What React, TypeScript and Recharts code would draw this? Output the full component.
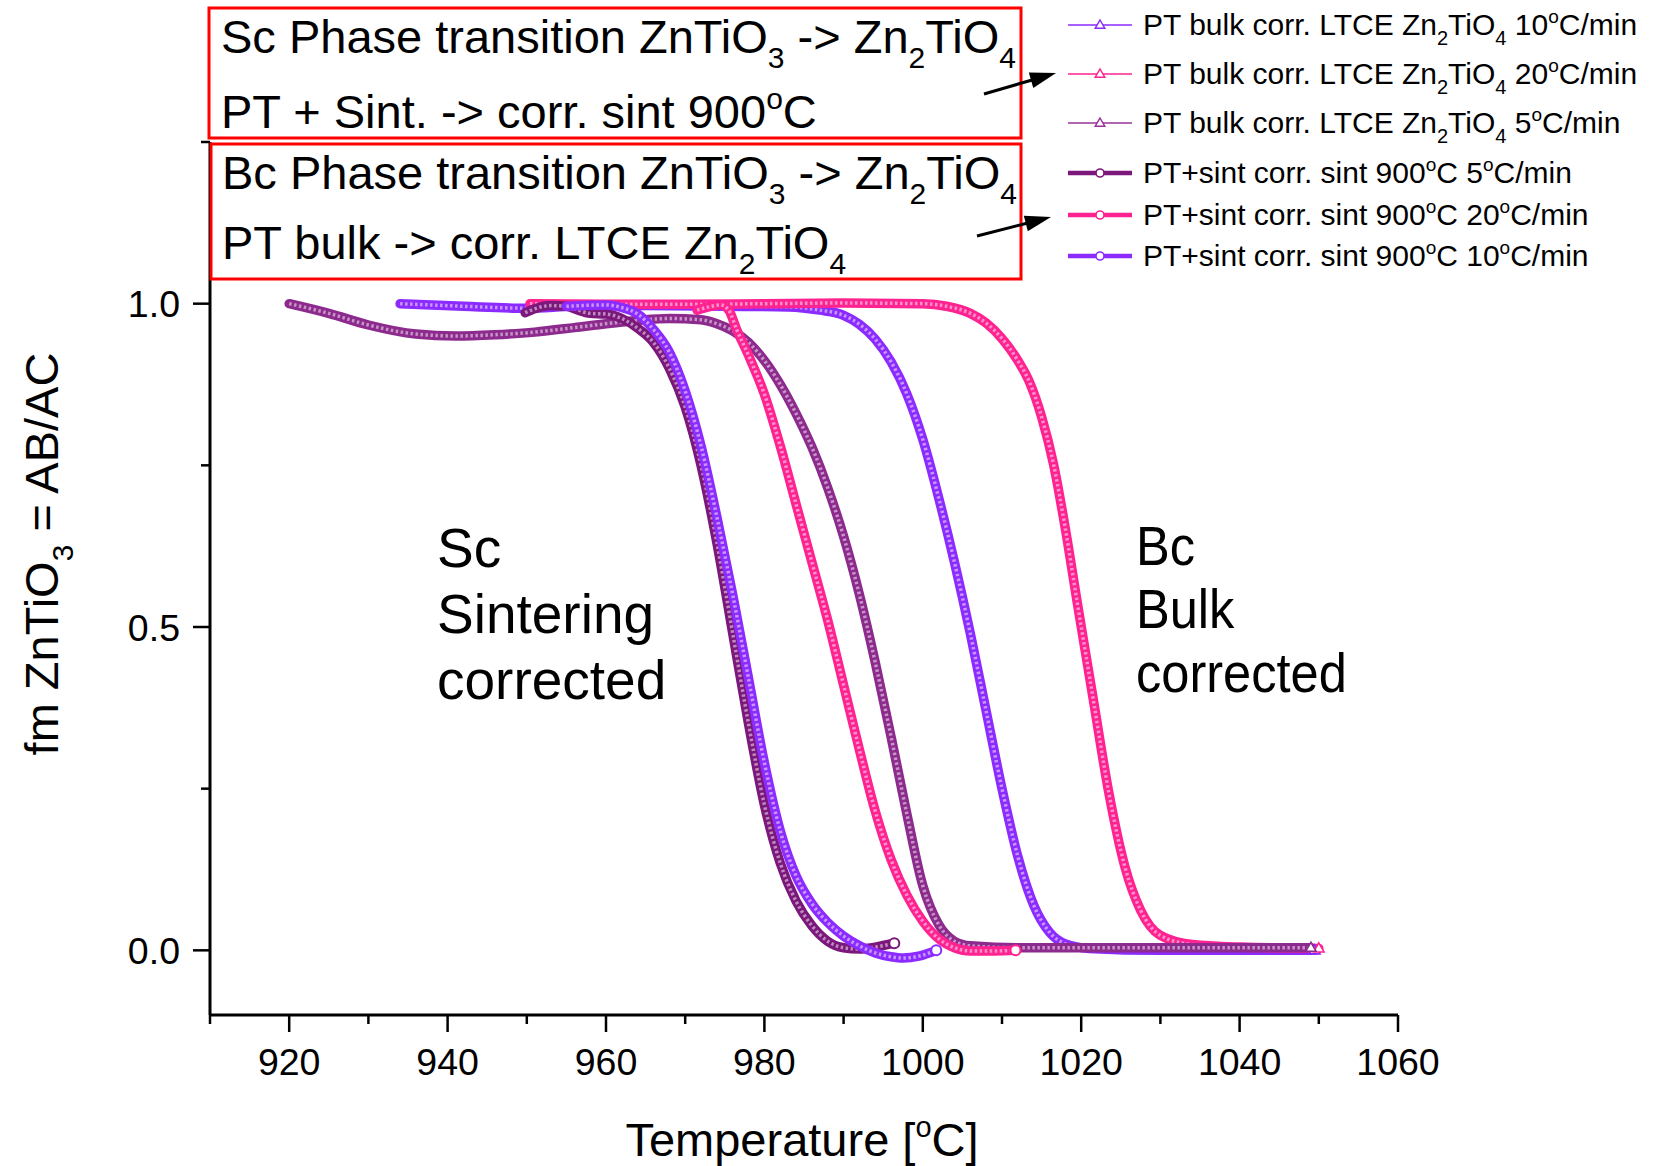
import React from 'react';
import { LineChart, Line, XAxis, YAxis } from 'recharts';

type Pt = [number, number];

// Temperature [°C], fm ZnTiO3 pairs for each run
const bulk10: Pt[] = [
  [934, 1.0], [942, 0.996], [950, 0.993], [956, 0.996], [965, 0.997], [975, 0.996], [983, 0.995],
  [987, 0.99], [990, 0.982], [992, 0.968], [994, 0.945], [996, 0.91], [998, 0.86], [1000, 0.79],
  [1002, 0.7], [1004, 0.6], [1006, 0.49], [1008, 0.37], [1010, 0.25], [1012, 0.145], [1014, 0.07],
  [1016, 0.028], [1018, 0.01], [1021, 0.003], [1030, 0.0], [1040, 0.0], [1049.5, 0.0],
];
const bulk20: Pt[] = [
  [950.4, 1.0], [960, 0.999], [970, 0.999], [980, 1.0], [990, 1.001], [1000, 1.0], [1003, 0.996],
  [1006, 0.985], [1008, 0.97], [1010, 0.946], [1012, 0.912], [1013.5, 0.878], [1015, 0.825],
  [1016.5, 0.752], [1018, 0.652], [1019.5, 0.538], [1021.5, 0.39], [1023.5, 0.243], [1025.5, 0.13],
  [1027.5, 0.062], [1030, 0.023], [1034, 0.009], [1040, 0.005], [1050, 0.003],
];
const bulk5: Pt[] = [
  [920, 1.0], [925, 0.985], [930, 0.967], [936, 0.953], [941, 0.95], [946, 0.952], [951, 0.956],
  [956, 0.963], [960, 0.969], [964, 0.974], [968, 0.977], [972, 0.975], [974, 0.969], [976, 0.958],
  [978, 0.94], [980, 0.912], [982, 0.875], [984, 0.83], [986, 0.778], [988, 0.715], [990, 0.64],
  [992, 0.55], [994, 0.445], [996, 0.33], [998, 0.21], [1000, 0.1], [1002, 0.04], [1004, 0.014],
  [1006, 0.007], [1012, 0.004], [1020, 0.004], [1030, 0.004], [1040, 0.004], [1049, 0.004],
];
const sint5: Pt[] = [
  [949.8, 0.986], [951, 0.992], [953, 0.997], [955, 0.996], [956.5, 0.99], [958, 0.985], [960, 0.984],
  [962, 0.977], [964, 0.962], [966, 0.94], [968, 0.9], [970, 0.84], [972, 0.75], [974, 0.63],
  [976, 0.49], [978, 0.35], [980, 0.225], [982, 0.135], [984, 0.076], [986, 0.038], [988, 0.014],
  [990, 0.004], [992, 0.002], [994, 0.005], [996.4, 0.011],
];
const sint20: Pt[] = [
  [971.5, 0.99], [973, 0.995], [974.5, 0.998], [975.5, 0.99], [976.5, 0.96], [978, 0.92], [980, 0.86],
  [982, 0.78], [984, 0.69], [986, 0.6], [988, 0.51], [990, 0.41], [992, 0.31], [994, 0.215],
  [996, 0.14], [998, 0.085], [1000, 0.045], [1002, 0.018], [1004, 0.004], [1006, -0.001],
  [1009, -0.001], [1011.7, 0.0],
];
const sint10: Pt[] = [
  [955, 0.996], [960, 0.998], [962, 0.994], [964, 0.984], [966, 0.96], [968, 0.925], [970, 0.865],
  [972, 0.78], [974, 0.67], [976, 0.55], [978, 0.42], [980, 0.29], [982, 0.185], [984, 0.115],
  [986, 0.072], [988, 0.043], [990, 0.022], [992, 0.007], [994, -0.004], [996, -0.01], [997.5, -0.012],
  [999.5, -0.009], [1001.7, 0.0],
];

const xTicks = [910, 920, 930, 940, 950, 960, 970, 980, 990, 1000, 1010, 1020, 1030, 1040, 1050, 1060];
const xLabelTicks = [920, 940, 960, 980, 1000, 1020, 1040, 1060];
const yTicks = [0, 0.25, 0.5, 0.75, 1.0, 1.25];
const yLabelTicks = [0, 0.5, 1.0];

const VIOLET = '#8C2BFF';
const PINK = '#FF2291';
const PURPLE = '#7C177C';
const PURPLE_B = '#8D2A8D';

const FONT = '"Liberation Sans", Arial, Helvetica, sans-serif';

type Series = { id: string; pts: Pt[]; color: string; marker: 'tri' | 'circle' };

// drawing order: later series on top
const series: Series[] = [
  { id: 'bulk10', pts: bulk10, color: VIOLET, marker: 'tri' },
  { id: 'bulk20', pts: bulk20, color: PINK, marker: 'tri' },
  { id: 'bulk5', pts: bulk5, color: PURPLE_B, marker: 'tri' },
  { id: 'sint5', pts: sint5, color: PURPLE, marker: 'circle' },
  { id: 'sint20', pts: sint20, color: PINK, marker: 'circle' },
  { id: 'sint10', pts: sint10, color: VIOLET, marker: 'circle' },
];

type LegendRow = { color: string; marker: 'tri' | 'circle'; kind: 'bulk' | 'sint'; rate: string };
const legendRows: LegendRow[] = [
  { color: VIOLET, marker: 'tri', kind: 'bulk', rate: '10' },
  { color: PINK, marker: 'tri', kind: 'bulk', rate: '20' },
  { color: '#993399', marker: 'tri', kind: 'bulk', rate: '5' },
  { color: PURPLE, marker: 'circle', kind: 'sint', rate: '5' },
  { color: PINK, marker: 'circle', kind: 'sint', rate: '20' },
  { color: VIOLET, marker: 'circle', kind: 'sint', rate: '10' },
];
const legendBaselines = [35, 84, 133, 183, 225, 266];

const triPath = (cx: number, cy: number, s: number) =>
  `M${cx},${cy - s} L${cx + s * 0.95},${cy + s * 0.65} L${cx - s * 0.95},${cy + s * 0.65} Z`;

const endDot = (s: Series) => (props: any) => {
  const { cx, cy, index } = props;
  if (index !== s.pts.length - 1 || cx == null || cy == null) return <g key={`d-${s.id}-${index}`} />;
  return s.marker === 'circle' ? (
    <circle key={`d-${s.id}-${index}`} cx={cx} cy={cy} r={5} fill="#fff" stroke={s.color} strokeWidth={2} />
  ) : (
    <path key={`d-${s.id}-${index}`} d={triPath(cx, cy, 5.5)} fill="#fff" stroke={s.color} strokeWidth={1.6} />
  );
};

const XTick = (props: any) => {
  const { x, y, payload } = props;
  const v = payload.value;
  const major = xLabelTicks.includes(v);
  return (
    <g>
      <line x1={x} x2={x} y1={y} y2={y + (major ? 17 : 9)} stroke="#000" strokeWidth={2.5} />
      {major && (
        <text x={x} y={y + 60} textAnchor="middle" fontSize={37.5} fontFamily={FONT} fill="#000">
          {v}
        </text>
      )}
    </g>
  );
};

const YTick = (props: any) => {
  const { x, y, payload } = props;
  const v = payload.value;
  const major = yLabelTicks.includes(v);
  return (
    <g>
      <line x1={x} x2={x - (major ? 17 : 9)} y1={y} y2={y} stroke="#000" strokeWidth={2.5} />
      {major && (
        <text x={x - 30} y={y + 13.5} textAnchor="end" fontSize={37.5} fontFamily={FONT} fill="#000">
          {v.toFixed(1)}
        </text>
      )}
    </g>
  );
};

const Arrow = ({ x1, y1, x2, y2 }: { x1: number; y1: number; x2: number; y2: number }) => {
  const dx = x2 - x1;
  const dy = y2 - y1;
  const len = Math.hypot(dx, dy);
  const ux = dx / len;
  const uy = dy / len;
  const hl = 26;
  const hw = 8;
  const bx = x2 - ux * hl;
  const by = y2 - uy * hl;
  const pts = `${x2},${y2} ${bx - uy * hw},${by + ux * hw} ${bx + uy * hw},${by - ux * hw}`;
  return (
    <g>
      <line x1={x1} y1={y1} x2={bx + ux * 2} y2={by + uy * 2} stroke="#000" strokeWidth={3} />
      <polygon points={pts} fill="#000" />
    </g>
  );
};

const Sub = ({ children, size, dy }: { children: React.ReactNode; size: number; dy: number }) => (
  <tspan dy={dy} fontSize={size}>
    {children}
  </tspan>
);

const BOX_FS = 47;
const BOX_SUB = 30;
const BOX_DY = 15;

const Annotations = () => (
  <svg
    width={1655}
    height={1166}
    style={{ position: 'absolute', left: 0, top: 0, pointerEvents: 'none' }}
    fontFamily={FONT}
  >
    {/* boxed notes */}
    <rect x={209} y={8} width={812} height={130} fill="none" stroke="#FF0000" strokeWidth={3} />
    <rect x={211} y={144} width={810} height={135} fill="none" stroke="#FF0000" strokeWidth={3} />
    <text x={221} y={53} fontSize={BOX_FS} fill="#000">
      Sc Phase transition ZnTiO
      <Sub size={BOX_SUB} dy={BOX_DY}>3</Sub>
      <tspan dy={-BOX_DY}>{' -> Zn'}</tspan>
      <Sub size={BOX_SUB} dy={BOX_DY}>2</Sub>
      <tspan dy={-BOX_DY}>TiO</tspan>
      <Sub size={BOX_SUB} dy={BOX_DY}>4</Sub>
    </text>
    <text x={221} y={128} fontSize={BOX_FS} fill="#000">
      {'PT + Sint. -> corr. sint 900'}
      <Sub size={BOX_SUB} dy={-19}>o</Sub>
      <tspan dy={19}>C</tspan>
    </text>
    <text x={222} y={189} fontSize={BOX_FS} fill="#000">
      Bc Phase transition ZnTiO
      <Sub size={BOX_SUB} dy={BOX_DY}>3</Sub>
      <tspan dy={-BOX_DY}>{' -> Zn'}</tspan>
      <Sub size={BOX_SUB} dy={BOX_DY}>2</Sub>
      <tspan dy={-BOX_DY}>TiO</tspan>
      <Sub size={BOX_SUB} dy={BOX_DY}>4</Sub>
    </text>
    <text x={222} y={259} fontSize={BOX_FS} fill="#000">
      {'PT bulk -> corr. LTCE Zn'}
      <Sub size={BOX_SUB} dy={BOX_DY}>2</Sub>
      <tspan dy={-BOX_DY}>TiO</tspan>
      <Sub size={BOX_SUB} dy={BOX_DY}>4</Sub>
    </text>

    <Arrow x1={984} y1={94} x2={1056} y2={73} />
    <Arrow x1={977} y1={236} x2={1051} y2={217} />

    {/* legend */}
    {legendRows.map((r, i) => {
      const by = legendBaselines[i];
      const ly = by - 10;
      const thick = r.kind === 'sint';
      return (
        <g key={`lg-${i}`}>
          <line x1={1068} x2={1132} y1={ly} y2={ly} stroke={r.color} strokeWidth={thick ? 4.5 : 1.6} />
          {r.marker === 'circle' ? (
            <circle cx={1100} cy={ly} r={4} fill="#fff" stroke={r.color} strokeWidth={1.6} />
          ) : (
            <path d={triPath(1100, ly, 5)} fill="#fff" stroke={r.color} strokeWidth={1.5} />
          )}
          {r.kind === 'bulk' ? (
            <text x={1143} y={by} fontSize={30} fill="#000">
              {'PT bulk corr. LTCE Zn'}
              <Sub size={20} dy={10}>2</Sub>
              <tspan dy={-10}>TiO</tspan>
              <Sub size={20} dy={10}>4</Sub>
              <tspan dy={-10}>{` ${r.rate}`}</tspan>
              <Sub size={19} dy={-12}>o</Sub>
              <tspan dy={12}>C/min</tspan>
            </text>
          ) : (
            <text x={1143} y={by} fontSize={30} fill="#000">
              {'PT+sint corr. sint 900'}
              <Sub size={19} dy={-12}>o</Sub>
              <tspan dy={12}>{`C ${r.rate}`}</tspan>
              <Sub size={19} dy={-12}>o</Sub>
              <tspan dy={12}>C/min</tspan>
            </text>
          )}
        </g>
      );
    })}

    {/* in-plot group labels */}
    <text x={437} y={567} fontSize={55} fill="#000">Sc</text>
    <text x={437} y={633} fontSize={55} fill="#000">Sintering</text>
    <text x={437} y={699} fontSize={55} fill="#000">corrected</text>
    <g transform="translate(1136,0) scale(0.92,1)">
      <text x={0} y={565} fontSize={55} fill="#000">Bc</text>
      <text x={0} y={628} fontSize={55} fill="#000">Bulk</text>
      <text x={0} y={692} fontSize={55} fill="#000">corrected</text>
    </g>

    {/* axis titles */}
    <text x={802} y={1156} fontSize={47} textAnchor="middle" fill="#000">
      {'Temperature ['}
      <Sub size={29} dy={-19}>o</Sub>
      <tspan dy={19}>C]</tspan>
    </text>
    <text transform="translate(58,554) rotate(-90)" x={0} y={0} fontSize={47} textAnchor="middle" fill="#000">
      fm ZnTiO
      <Sub size={30} dy={15}>3</Sub>
      <tspan dy={-15}>{' = AB/AC'}</tspan>
    </text>
  </svg>
);

export default function App() {
  return (
    <div style={{ position: 'absolute', left: 0, top: 0, width: 1655, height: 1166, background: '#fff' }}>
      <LineChart width={1655} height={1166} margin={{ top: 142, right: 257, left: 150, bottom: 121 }}>
        <XAxis
          type="number"
          dataKey="t"
          domain={[910, 1060]}
          ticks={xTicks}
          interval={0}
          allowDataOverflow
          height={30}
          tickSize={0}
          tickMargin={0}
          tickLine={false}
          axisLine={{ stroke: '#000', strokeWidth: 3 }}
          tick={<XTick />}
        />
        <YAxis
          type="number"
          dataKey="f"
          domain={[-0.1, 1.25]}
          ticks={yTicks}
          interval={0}
          allowDataOverflow
          width={60}
          tickSize={0}
          tickMargin={0}
          tickLine={false}
          axisLine={{ stroke: '#000', strokeWidth: 3 }}
          tick={<YTick />}
        />
        {series.map((s) => [
          <Line
            key={`${s.id}-main`}
            data={s.pts.map(([t, f]) => ({ t, f }))}
            dataKey="f"
            type="monotone"
            stroke={s.color}
            strokeWidth={9.5}
            strokeLinejoin="round"
            strokeLinecap="round"
            dot={endDot(s)}
            activeDot={false}
            isAnimationActive={false}
          />,
          <Line
            key={`${s.id}-tex`}
            data={s.pts.map(([t, f]) => ({ t, f }))}
            dataKey="f"
            type="monotone"
            stroke="#ffffff"
            strokeOpacity={0.5}
            strokeWidth={3.5}
            strokeDasharray="2.5 2.5"
            dot={false}
            activeDot={false}
            isAnimationActive={false}
          />,
        ])}
      </LineChart>
      <Annotations />
    </div>
  );
}
